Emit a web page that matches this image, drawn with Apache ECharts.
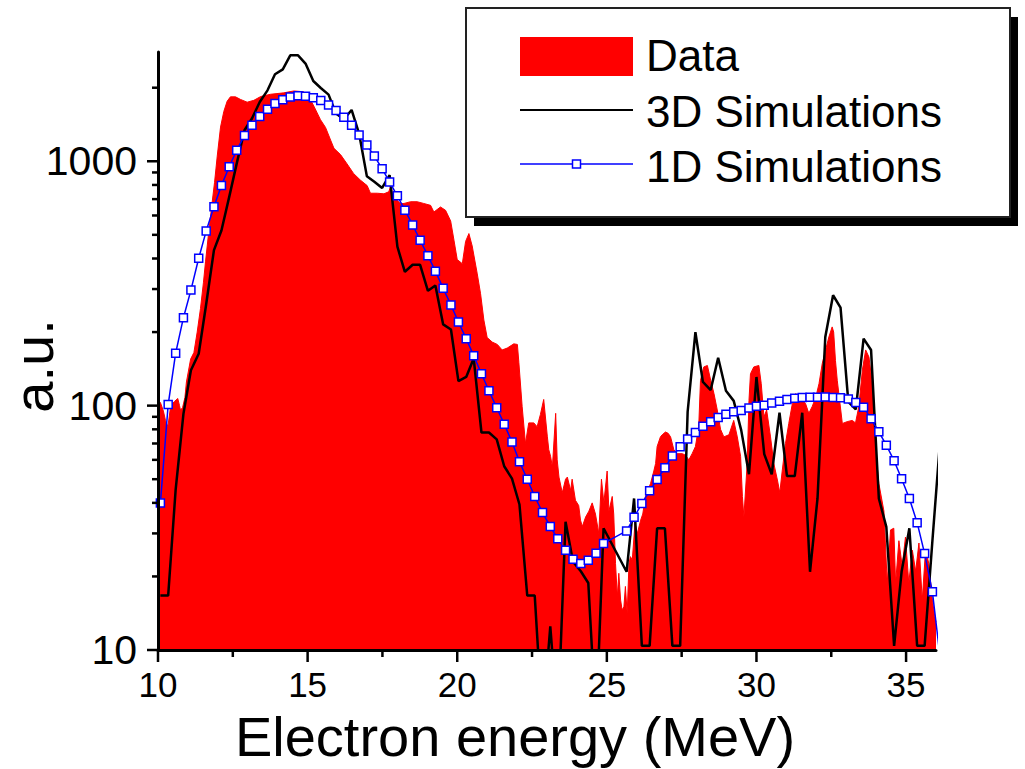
<!DOCTYPE html>
<html>
<head>
<meta charset="utf-8">
<script src="https://cdn.jsdelivr.net/npm/echarts@6/dist/echarts.min.js"></script>
<style>
html,body{margin:0;padding:0;background:#fff;}
#chart{width:1025px;height:769px;}
</style>
</head>
<body>
<div id="chart"></div>
<script>
// ---------- data ----------
const dataSpectrum = [
[10.00,105],[10.08,103],[10.18,95],[10.25,87],[10.33,82],[10.42,99],[10.48,102],[10.55,104],[10.66,107],[10.72,100],
[10.75,96],[10.82,98],[10.90,108],[10.95,125],[11.09,155],[11.20,165],[11.31,200],[11.42,250],[11.52,320],[11.59,390],
[11.70,520],[11.81,680],[11.89,820],[11.98,1050],[12.09,1380],[12.20,1600],[12.31,1760],[12.42,1835],[12.59,1835],[12.76,1790],
[12.98,1745],[13.20,1775],[13.43,1840],[13.76,1880],[14.20,1905],[14.54,1940],[14.87,1925],[15.04,1840],[15.21,1680],[15.43,1480],
[15.60,1375],[15.77,1220],[15.88,1130],[16.10,1065],[16.32,975],[16.54,890],[16.77,836],[16.99,795],[17.10,740],[17.33,740],
[17.55,736],[17.71,750],[17.77,785],[17.88,715],[18.10,671],[18.22,672],[18.44,683],[18.66,683],[18.88,672],[19.11,660],
[19.22,620],[19.44,650],[19.61,630],[19.78,570],[19.89,476],[20.00,396],[20.17,381],[20.28,470],[20.39,506],[20.50,450],
[20.67,346],[20.78,287],[20.89,224],[21.00,190],[21.17,182],[21.34,178],[21.50,169],[21.67,172],[21.89,179],[22.01,178],
[22.06,150],[22.17,99],[22.28,70],[22.39,85],[22.56,85],[22.67,82],[22.78,92],[22.89,106],[23.01,75],[23.06,66],
[23.12,62],[23.18,56],[23.29,93],[23.34,60],[23.40,51],[23.51,44],[23.62,50],[23.68,51],[23.79,45],[23.84,50],
[23.95,41],[24.06,39],[24.12,34],[24.18,32],[24.29,35],[24.40,37],[24.51,40],[24.62,36],[24.73,30],[24.82,50],
[24.90,40],[25.01,54],[25.07,37],[25.18,42.5],[25.23,36],[25.29,22.6],[25.35,16.5],[25.40,20.6],[25.46,16],[25.51,14.6],
[25.57,15],[25.62,18.2],[25.68,14.1],[25.74,22.6],[25.79,24.1],[25.85,23.3],[25.94,33],[26.02,30],[26.13,34],[26.20,36],
[26.29,42.5],[26.46,48],[26.57,54],[26.63,58],[26.68,68],[26.79,74.5],[26.85,76],[26.96,78],[27.05,77],[27.13,74.5],
[27.24,66],[27.35,63.6],[27.52,63.6],[27.63,62.7],[27.74,60],[27.85,63.6],[27.96,68],[28.07,82],[28.13,127],[28.24,144],
[28.36,146],[28.47,127],[28.58,112],[28.69,96],[28.80,80],[28.91,74.5],[29.08,76],[29.24,87],[29.36,74.5],[29.47,62],
[29.53,42.5],[29.58,35],[29.69,58],[29.75,105],[29.80,135],[29.91,144],[30.08,146],[30.16,123],[30.25,90],[30.34,96],
[30.47,74.5],[30.58,58],[30.70,49.6],[30.78,44],[30.86,54],[30.97,70],[31.08,84.5],[31.20,102],[31.31,112],[31.47,108],
[31.64,102],[31.75,93],[31.86,99],[31.98,108],[32.09,123],[32.20,149],[32.31,169],[32.42,191],[32.53,210],[32.58,200],
[32.64,153],[32.70,127],[32.87,84.5],[33.03,86],[33.20,87],[33.31,85],[33.42,99],[33.54,140],[33.65,169],[33.76,158],
[33.87,123],[33.98,66],[34.09,48],[34.26,37],[34.37,18.8],[34.48,31],[34.59,31.5],[34.65,18.8],[34.76,28],[34.87,22],
[34.98,29],[35.09,18.8],[35.21,25.6],[35.32,21],[35.43,27.4],[35.54,16],[35.65,25.6],[35.76,22.6],[35.88,16],[35.96,13.7],
[36.00,13]
];

const simEnergy = [
10.08,10.34,10.59,10.85,11.10,11.36,11.61,11.87,12.12,12.38,
12.63,12.89,13.14,13.40,13.66,13.91,14.17,14.42,14.68,14.93,
15.19,15.44,15.70,15.95,16.21,16.47,16.72,16.98,17.23,17.49,
17.74,18.00,18.25,18.51,18.76,19.02,19.27,19.53,19.79,20.04,
20.30,20.55,20.81,21.06,21.32,21.57,21.83,22.08,22.34,22.59,
22.85,23.11,23.36,23.62,23.87,24.13,24.38,24.64,24.89,
25.66,25.91,26.17,26.43,26.68,26.94,27.19,27.45,27.70,27.96,
28.21,28.47,28.72,28.98,29.24,29.49,29.75,30.00,30.26,30.51,
30.77,31.02,31.28,31.53,31.79,32.04,32.30,32.56,32.81,33.07,
33.32,33.58,33.83,34.09,34.34,34.60,34.85,35.11,35.37,35.62,
35.88,36.13
];

const sim1D = [
40,101,164,229,297,401,518,652,796,950,
1109,1276,1403,1524,1633,1722,1786,1833,1853,1846,
1818,1774,1698,1613,1513,1403,1281,1166,1050,933,
822,722,631,549,475,411,355,302,258,220,
188,160,135,115,98,84,71,59,50,42.5,
36.5,32,28.5,25.6,23.5,22.6,23.3,24.9,27.3,
30.7,34.9,39.8,44.8,49.9,55.7,62.2,67.9,73,77.7,
82.4,85.9,89.5,92.3,94.4,95.6,97.9,99.5,100.4,102.4,
104.3,106,107.3,108,108.3,108.3,108.6,108,107.6,106.4,
103.1,98.6,88.3,78.1,68.9,59.5,50.2,41.7,33.2,24.8,
17.3,9.5
];

const sim3D = [
16.7,16.7,45.3,92.5,139.5,163,260,433,521,715,
978,1340,1496,1749,1951,2269,2378,2714,2714,2510,
2130,1995,1874,1567,1485,1622,1298,868,825,778,
877,447,353,377,377,295,310,215,205,126,
131,156,77.6,77.6,72.8,56.5,50.3,39.4,16.7,16.7,
5,12.5,5,33.5,23,21,18.8,5,31.5,
20.9,41.7,10.4,10.4,31.5,31.5,10.4,10.4,94.4,200,
125,115.8,157,115,104.6,79.4,52.4,131,63.3,52.4,
93.5,51.5,51.5,93.5,20.9,41.7,191,283,252,103.7,
96.5,188,169,41.7,31.9,10.4,20.9,31.5,10.4,10.4,
28,70
];

const seriesNames = ['Data', '3D Simulations', '1D Simulations'];
const xTickLabels = [10, 15, 20, 25, 30, 35];
const xMinorTicks = [12.5, 17.5, 22.5, 27.5, 32.5];
const yTickLabels = [10, 100, 1000];
const yMinorTicks = [20,30,40,50,60,70,80,90,200,300,400,500,600,700,800,900,2000];
const xAxisTitle = 'Electron energy (MeV)';
const yAxisTitle = 'a.u.';
const xRange = [10, 36];
const yRange = [10, 2800];

// ---------- chart ----------
const FONT = "'Liberation Sans', Arial, Helvetica, sans-serif";
const chart = echarts.init(document.getElementById('chart'), null, {renderer: 'svg'});

function zip(xs, ys) { return xs.map((x, i) => [x, ys[i]]); }

function tickSeries(values, axis, len) {
  return {
    type: 'custom',
    silent: true,
    z: 6,
    clip: false,
    data: values.map(v => axis === 'y' ? [xRange[0], v] : [v, yRange[0]]),
    renderItem: function (params, api) {
      const p = api.coord([api.value(0), api.value(1)]);
      const shape = axis === 'y'
        ? {x1: p[0] - len, y1: p[1], x2: p[0], y2: p[1]}
        : {x1: p[0], y1: p[1], x2: p[0], y2: p[1] + len};
      return {type: 'line', shape: shape, style: {stroke: '#000', lineWidth: 2.5}};
    }
  };
}

const option = {
  animation: false,
  backgroundColor: '#fff',
  grid: {left: 158, right: 89, top: 52, bottom: 119},
  xAxis: {
    type: 'value', min: xRange[0], max: xRange[1], interval: 5, z: 5,
    axisLine: {lineStyle: {color: '#000', width: 3}},
    axisTick: {show: false},
    splitLine: {show: false},
    axisLabel: {
      customValues: xTickLabels,
      margin: 16.5, color: '#000', fontSize: 35, fontFamily: FONT
    }
  },
  yAxis: {
    type: 'log', logBase: 10, min: yRange[0], max: yRange[1], z: 5,
    axisLine: {lineStyle: {color: '#000', width: 3}},
    axisTick: {show: false},
    minorTick: {show: false},
    splitLine: {show: false},
    axisLabel: {
      showMaxLabel: false,
      margin: 21, color: '#000', fontSize: 41, fontFamily: FONT,
      formatter: function (v) {
        const r = Math.round(v);
        return yTickLabels.indexOf(r) >= 0 ? String(r) : '';
      }
    }
  },
  series: [
    {
      name: seriesNames[0], type: 'line', data: dataSpectrum, z: 1,
      symbol: 'none', silent: true,
      lineStyle: {color: '#ff0000', width: 1},
      areaStyle: {color: '#ff0000', opacity: 1, origin: 'start'}
    },
    {
      name: seriesNames[1], type: 'line', data: zip(simEnergy, sim3D), z: 3,
      symbol: 'none', clip: true,
      lineStyle: {color: '#000', width: 2.5}
    },
    {
      name: seriesNames[2], type: 'line', data: zip(simEnergy, sim1D), z: 4,
      symbol: 'rect', symbolSize: 8, showAllSymbol: true, clip: true,
      itemStyle: {color: '#fff', borderColor: '#0000ff', borderWidth: 1.5},
      lineStyle: {color: '#0000ff', width: 1.5}
    },
    tickSeries(yTickLabels, 'y', 11),
    tickSeries(yMinorTicks, 'y', 6),
    tickSeries(xTickLabels, 'x', 12),
    tickSeries(xMinorTicks, 'x', 7)
  ],
  graphic: [
    {type: 'text', x: 515, y: 736, z: 50,
     style: {text: xAxisTitle, fontSize: 56, fontFamily: FONT, fill: '#000', align: 'center', verticalAlign: 'middle'}},
    {type: 'text', x: 33, y: 366, rotation: Math.PI / 2, z: 50,
     style: {text: yAxisTitle, fontSize: 56, fontFamily: FONT, fill: '#000', align: 'center', verticalAlign: 'middle'}},
    // legend box with drop shadow
    {type: 'rect', z: 100, shape: {x: 474, y: 17, width: 544, height: 209}, style: {fill: '#000'}},
    {type: 'rect', z: 101, shape: {x: 466, y: 8, width: 544, height: 209}, style: {fill: '#fff', stroke: '#222', lineWidth: 2}},
    {type: 'rect', z: 102, shape: {x: 520, y: 37, width: 113, height: 39}, style: {fill: '#ff0000'}},
    {type: 'line', z: 102, shape: {x1: 520, y1: 110, x2: 633, y2: 110}, style: {stroke: '#000', lineWidth: 2}},
    {type: 'line', z: 102, shape: {x1: 520, y1: 164, x2: 633, y2: 164}, style: {stroke: '#0000ff', lineWidth: 1.5}},
    {type: 'rect', z: 103, shape: {x: 572.5, y: 160, width: 8, height: 8}, style: {fill: '#fff', stroke: '#0000ff', lineWidth: 1.5}},
    {type: 'text', z: 103, x: 646, y: 55.5, style: {text: seriesNames[0], fontSize: 44, fontFamily: FONT, fill: '#000', align: 'left', verticalAlign: 'middle'}},
    {type: 'text', z: 103, x: 646, y: 111, style: {text: seriesNames[1], fontSize: 44, fontFamily: FONT, fill: '#000', align: 'left', verticalAlign: 'middle'}},
    {type: 'text', z: 103, x: 646, y: 166, style: {text: seriesNames[2], fontSize: 44, fontFamily: FONT, fill: '#000', align: 'left', verticalAlign: 'middle'}}
  ]
};

chart.setOption(option);
</script>
</body>
</html>
